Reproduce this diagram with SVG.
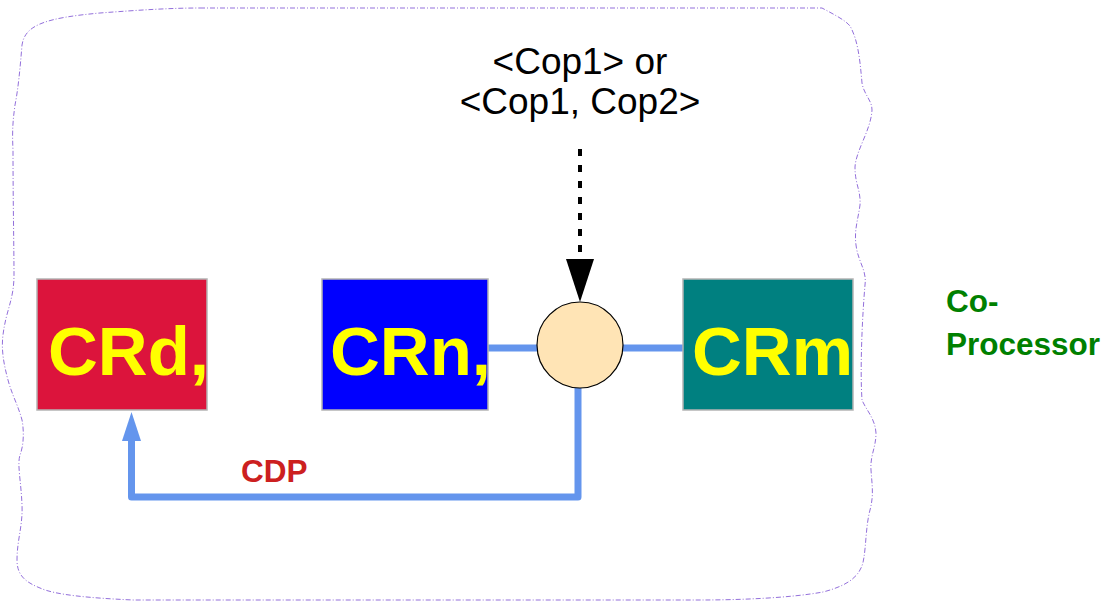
<svg xmlns="http://www.w3.org/2000/svg" width="1106" height="601" viewBox="0 0 1106 601">
  <style>
    .box { stroke: #b4b4b4; stroke-width: 1.5; }
    .reg { font-family: "Liberation Sans", Arial, sans-serif; font-weight: bold; font-size: 69px; fill: #ffff00; }
    .bus { fill: none; stroke: #6495ed; stroke-width: 7; stroke-linejoin: round; }
    .note { font-family: "Liberation Sans", Arial, sans-serif; font-size: 37px; fill: #000000; text-anchor: middle; }
    .lbl { font-family: "Liberation Sans", Arial, sans-serif; font-weight: bold; font-size: 31.5px; }
  </style>
  <rect width="1106" height="601" fill="#ffffff"/>

  <!-- coprocessor boundary -->
  <g id="boundary">
    <path d="M 200,8 L 822,8 C 835,15 845,20 850,26 C 858,40 860,60 862,83 C 864,95 872,100 872,110 C 871,130 856,150 855,167 C 855,185 861,190 860,205 C 858,220 854,230 856,245 C 858,262 867,270 865,285 C 862,320 860,370 862,400 C 866,410 875,418 876,433 C 876,448 870,455 871,470 C 872,485 874,495 870,510 C 866,525 866,545 864,557 C 862,575 850,585 823,592 C 790,598 740,600 700,600 L 133,600 C 90,598 55,595 40,588 C 25,582 17,575 17,560 C 17,540 23,525 22,505 C 21,480 17,465 20,455 C 24,445 24,430 22,420 C 18,405 12,395 8,380 C 4,365 1,350 3,335 C 6,310 14,300 14,275 C 14,250 13,200 13,150 C 12,130 13,120 15,105 C 18,90 20,70 22,45 C 25,25 45,18 100,13 C 140,10 170,8 200,8 Z" fill="none" stroke="#9370db" stroke-width="1" stroke-dasharray="5 2 1 2"/>
  </g>

  <!-- connectors -->
  <g id="connectors">
    <line x1="580" y1="149" x2="580" y2="260" stroke="#000000" stroke-width="4" stroke-dasharray="7 9"/>
    <polygon points="566,259 594,259 580,302" fill="#000000"/>
    <line class="bus" x1="488" y1="348" x2="537" y2="348"/>
    <line class="bus" x1="623" y1="348" x2="683" y2="348"/>
    <path class="bus" d="M 578,388 V 497 H 131.5 V 440"/>
    <polygon points="122,441 141,441 131.5,412" fill="#6495ed"/>
  </g>

  <g id="crd">
    <rect class="box" x="37" y="279" width="170" height="131" fill="#dc143c"/>
    <text class="reg" x="48" y="375">CRd,</text>
  </g>

  <g id="crn">
    <rect class="box" x="322" y="279" width="166" height="131" fill="#0000ff"/>
    <text class="reg" x="330" y="375">CRn,</text>
  </g>

  <g id="crm">
    <rect class="box" x="683" y="279" width="170" height="131" fill="#008080"/>
    <text class="reg" x="692" y="375">CRm</text>
  </g>

  <g id="op">
    <circle cx="580" cy="345" r="43" fill="#ffe4b5" stroke="#000000" stroke-width="1.2"/>
  </g>

  <g id="opcode">
    <text class="note" x="580" y="74">&lt;Cop1&gt; or</text>
    <text class="note" x="580" y="114">&lt;Cop1, Cop2&gt;</text>
  </g>

  <g id="cdp">
    <text class="lbl" x="241" y="482" fill="#cc2020">CDP</text>
  </g>

  <g id="coprocessor">
    <text class="lbl" fill="#008000">
      <tspan x="946" y="312">Co-</tspan>
      <tspan x="946" y="355">Processor</tspan>
    </text>
  </g>
</svg>
